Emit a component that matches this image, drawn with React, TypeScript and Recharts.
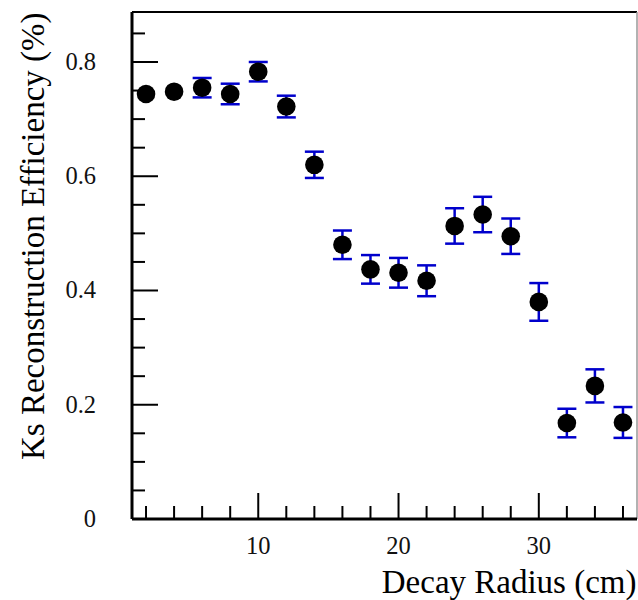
import React from 'react';
import { ScatterChart, Scatter, XAxis, YAxis, ErrorBar, ReferenceLine, Label } from 'recharts';

const radius = [2, 4, 6, 8, 10, 12, 14, 16, 18, 20, 22, 24, 26, 28, 30, 32, 34, 36];
const efficiency = [0.744, 0.748, 0.755, 0.744, 0.783, 0.722, 0.62, 0.48, 0.437, 0.431, 0.417, 0.513, 0.533, 0.495, 0.38, 0.168, 0.233, 0.169];
const errors = [0, 0, 0.017, 0.018, 0.017, 0.019, 0.023, 0.025, 0.025, 0.026, 0.027, 0.031, 0.031, 0.031, 0.033, 0.025, 0.029, 0.027];

const xTicks = [2, 4, 6, 8, 10, 12, 14, 16, 18, 20, 22, 24, 26, 28, 30, 32, 34, 36];
const xMajor = [10, 20, 30];
const yTicks = [0, 0.05, 0.1, 0.15, 0.2, 0.25, 0.3, 0.35, 0.4, 0.45, 0.5, 0.55, 0.6, 0.65, 0.7, 0.75, 0.8, 0.85];
const yMajor = [0, 0.2, 0.4, 0.6, 0.8];
const yLabels = ['0', '0.2', '0.4', '0.6', '0.8'];

const xTitle = 'Decay Radius (cm)';
const yTitle = 'Ks Reconstruction Efficiency (%)';

const X_DOMAIN: [number, number] = [1, 37];
const Y_DOMAIN: [number, number] = [0, 0.8875];

const FONT = '"Liberation Serif", "Times New Roman", serif';

const data = radius.map((r, i) => ({ r, eff: efficiency[i], err: errors[i] }));

const XTick = (props: any) => {
  const { x, y, payload } = props;
  const v = payload.value;
  const major = xMajor.includes(v);
  const len = major ? 26 : 13;
  return (
    <g>
      <line x1={x} x2={x} y1={y} y2={y - len} stroke="#000" strokeWidth={2} />
      {major && (
        <text x={x} y={y + 35} textAnchor="middle" fontFamily={FONT} fontSize={24.5} fill="#111">
          {v}
        </text>
      )}
    </g>
  );
};

const YTick = (props: any) => {
  const { x, y, payload } = props;
  const v = payload.value;
  const idx = yMajor.findIndex((m) => Math.abs(m - v) < 1e-9);
  const major = idx >= 0;
  const len = major ? 26 : 13;
  return (
    <g>
      <line x1={x} x2={x + len} y1={y} y2={y} stroke="#000" strokeWidth={2} />
      {major && (
        <text x={x - 36} y={y + 8} textAnchor="end" fontFamily={FONT} fontSize={24.5} fill="#111">
          {yLabels[idx]}
        </text>
      )}
    </g>
  );
};

const Dot = (props: any) => {
  const { cx, cy } = props;
  return <circle cx={cx} cy={cy} r={9.3} fill="#000" />;
};

export default function App() {
  return (
    <div style={{ width: 638, height: 600, padding: '8px 0 0 8px', boxSizing: 'border-box', overflow: 'hidden' }}>
      <style>{'html,body{margin:0;padding:0;overflow:hidden;}'}</style>
      <ScatterChart width={630} height={592} margin={{ top: 4, right: 1, bottom: 0, left: 0 }}>
        <XAxis
          type="number"
          dataKey="r"
          domain={X_DOMAIN}
          ticks={xTicks}
          interval={0}
          allowDataOverflow
          height={81}
          tickSize={0}
          tickMargin={0}
          tickLine={false}
          tick={<XTick />}
          axisLine={{ stroke: '#000', strokeWidth: 3 }}
        >
          <Label
            content={(p: any) => {
              const vb = p.viewBox;
              return (
                <text x={vb.x + vb.width - 0.5} y={vb.y + 74} textAnchor="end" fontFamily={FONT} fontSize={33} fill="#000">
                  {xTitle}
                </text>
              );
            }}
          />
        </XAxis>
        <YAxis
          type="number"
          dataKey="eff"
          domain={Y_DOMAIN}
          ticks={yTicks}
          interval={0}
          allowDataOverflow
          width={124}
          tickSize={0}
          tickMargin={0}
          tickLine={false}
          tick={<YTick />}
          axisLine={{ stroke: '#000', strokeWidth: 3 }}
        >
          <Label
            content={(p: any) => {
              const vb = p.viewBox;
              const tx = 35.5;
              const ty = vb.y + 0.5;
              return (
                <text x={tx} y={ty} textAnchor="end" transform={`rotate(-90, ${tx}, ${ty})`} fontFamily={FONT} fontSize={33} fill="#000">
                  {yTitle}
                </text>
              );
            }}
          />
        </YAxis>
        <ReferenceLine y={Y_DOMAIN[1]} stroke="#000" strokeWidth={2} />
        <ReferenceLine x={X_DOMAIN[1]} stroke="#999" strokeWidth={1.5} />
        <Scatter data={data} fill="#000" shape={<Dot />} isAnimationActive={false}>
          <ErrorBar dataKey="err" direction="y" width={9.5} stroke="#0000cc" strokeWidth={2.5} />
        </Scatter>
      </ScatterChart>
    </div>
  );
}
